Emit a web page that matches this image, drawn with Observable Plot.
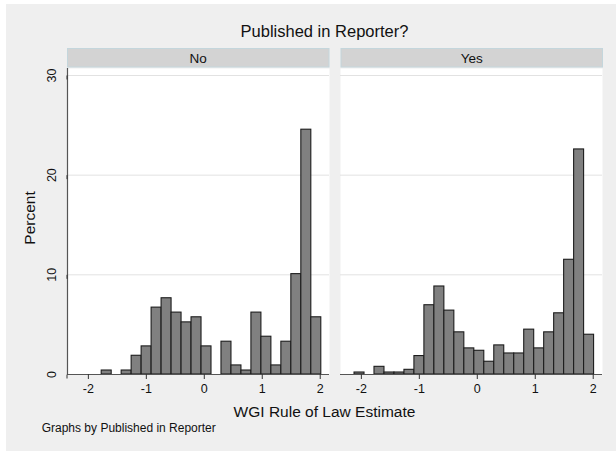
<!DOCTYPE html>
<html><head><meta charset="utf-8">
<script src="https://cdn.jsdelivr.net/npm/d3@7"></script>
<script src="https://cdn.jsdelivr.net/npm/@observablehq/plot@0.6"></script>
<style>
html,body{margin:0;padding:0;background:#fff;}
#wrap{position:relative;width:616px;height:451px;overflow:hidden;font-family:"Liberation Sans",Arial,sans-serif;}
#bg{position:absolute;left:6px;top:4px;right:0;bottom:0;background:#efefef;}
#wrap svg{position:absolute;left:0;top:0;}
</style></head><body><div id="wrap"><div id="bg"></div></div>
<script>
// ---- data ----
const panels = ["No", "Yes"];
const binWidth = 0.1722;
const noStart = -1.770;
const yesStart = -2.118;
const noPct = [0.40, 0, 0.40, 1.88, 2.82, 6.71, 7.65, 6.21, 5.23, 5.74, 2.82, 0, 3.29, 0.91, 0.40, 6.21, 3.79, 0.91, 3.29, 10.07, 24.56, 5.74];
const yesPct = [0.20, 0, 0.77, 0.20, 0.20, 0.47, 1.85, 6.95, 8.83, 6.41, 4.23, 2.62, 2.38, 1.28, 2.92, 2.11, 2.11, 4.50, 2.62, 4.23, 6.14, 11.51, 22.58, 3.99];
const xTicks = [-2, -1, 0, 1, 2];
const yTicks = [0, 10, 20, 30];
const titleText = "Published in Reporter?";
const xLabel = "WGI Rule of Law Estimate";
const yLabel = "Percent";
const noteText = "Graphs by Published in Reporter";

// ---- layout ----
const W = 616, H = 451;
const mL = 67, mR = 13, mT = 68, mB = 77;
const gap = 11;
const span = W - mL - mR;
const step = (span + gap) / 2;
const band = step - gap;
const xDomain = [-2.36, 2.16];
const yDomain = [0, 30.7];
const font = "'Liberation Sans', Arial, Helvetica, sans-serif";

const bars = [];
[[panels[0], noStart, noPct], [panels[1], yesStart, yesPct]].forEach(([p, s, arr]) => {
  arr.forEach((v, i) => {
    if (v > 0) bars.push({panel: p, x1: s + i * binWidth, x2: s + (i + 1) * binWidth, pct: v});
  });
});

const wrap = document.getElementById("wrap");

// overlay for strips and titles
const ov = d3.select(wrap).append("svg").attr("width", W).attr("height", H)
  .style("font-family", font);
panels.forEach((p, i) => {
  const x0 = mL + i * step;
  ov.append("rect").attr("x", x0 + 0.5).attr("y", 48.5).attr("width", band - 1).attr("height", 18.5)
    .attr("fill", "#d3d3d3").attr("stroke", "#c4d6dc").attr("stroke-width", 1);
  ov.append("text").attr("x", x0 + band / 2).attr("y", 62.5).attr("text-anchor", "middle")
    .attr("font-size", 13.5).attr("fill", "#111").text(p);
});
ov.append("text").attr("x", 324.5).attr("y", 36.7).attr("text-anchor", "middle")
  .attr("font-size", 16.5).attr("fill", "#111").text(titleText);
ov.append("text").attr("x", 324.5).attr("y", 416.5).attr("text-anchor", "middle")
  .attr("font-size", 15.5).attr("fill", "#111").text(xLabel);
ov.append("text").attr("transform", "translate(29.5,218) rotate(-90)").attr("text-anchor", "middle")
  .attr("dy", "0.35em").attr("font-size", 15.5).attr("fill", "#111").text(yLabel);
ov.append("text").attr("x", 41.7).attr("y", 432).attr("font-size", 12).attr("fill", "#111").text(noteText);

const chart = Plot.plot({
  width: W, height: H,
  marginLeft: mL, marginRight: mR, marginTop: mT, marginBottom: mB,
  style: {background: "transparent", fontFamily: font, fontSize: "12.5px", color: "#111", overflow: "visible"},
  fx: {domain: panels, paddingInner: gap / step, paddingOuter: 0, axis: null, label: null},
  x: {domain: xDomain, label: null},
  y: {domain: yDomain, label: null},
  marks: [
    Plot.frame({fill: "white", stroke: null}),
    Plot.gridY(yTicks.slice(1), {stroke: "#e2e2e2", strokeOpacity: 1, strokeWidth: 1}),
    Plot.rect(bars, {x1: "x1", x2: "x2", y1: 0, y2: "pct", fx: "panel", fill: "#808080", stroke: "#1c1c1c", strokeWidth: 1.1}),
    Plot.ruleY([0], {stroke: "#555", strokeWidth: 1.2}),
    Plot.ruleX([xDomain[0]], {fx: [panels[0]], stroke: "#555", strokeWidth: 1.2}),
    Plot.axisY(yTicks, {tickSize: 4, tickPadding: 12, rotate: -90, textAnchor: "middle", lineAnchor: "middle", label: null, stroke: "#333", tickFormat: d => String(d)}),
    Plot.axisX(xTicks, {tickSize: 5, tickPadding: 5, label: null, stroke: "#333", tickFormat: d => String(d)})
  ]
});
wrap.appendChild(chart);
</script></body></html>
